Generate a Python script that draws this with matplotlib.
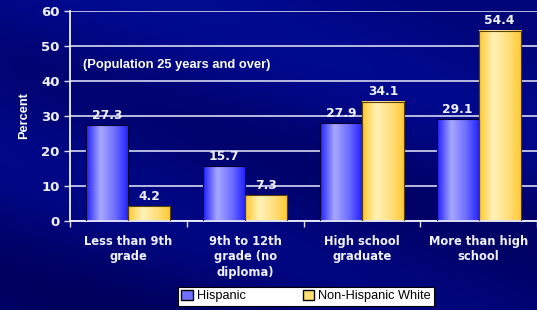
import numpy as np
import matplotlib
matplotlib.use("Agg")
import matplotlib.pyplot as plt
from matplotlib.colors import LinearSegmentedColormap
from matplotlib.patches import Patch

categories = ["Less than 9th\ngrade", "9th to 12th\ngrade (no\ndiploma)",
              "High school\ngraduate", "More than high\nschool"]
hispanic = [27.3, 15.7, 27.9, 29.1]
nonhisp_white = [4.2, 7.3, 34.1, 54.4]
series_names = ["Hispanic", "Non-Hispanic White"]
y_ticks = [0, 10, 20, 30, 40, 50, 60]

fig = plt.figure(figsize=(5.37, 3.10), dpi=100)
fig.patch.set_facecolor("#00007a")

# background with soft diagonal streaks
bg = fig.add_axes([0, 0, 1, 1], zorder=-1)
bg.axis("off")
yy, xx = np.mgrid[0:1:200j, 0:1:300j]
diag = xx * 0.6 - yy
streak = 0.5 + 0.5 * np.sin(diag * 9.0)
bg_cmap = LinearSegmentedColormap.from_list("bg", ["#00005e", "#000888", "#0412a0"])
bg.imshow(0.35 * streak + 0.65 * (1 - yy) * 0.5, cmap=bg_cmap, aspect="auto",
          extent=[0, 1, 0, 1], vmin=0, vmax=1)

ax = fig.add_axes([70 / 537, 1 - 221 / 310, 1 - 70 / 537, (221 - 11) / 310])
ax.set_facecolor("none")

x = np.arange(len(categories))
w = 0.36
bars_h = ax.bar(x - w / 2, hispanic, w, color="none", edgecolor="#000030",
                linewidth=0.8, zorder=3)
bars_w = ax.bar(x + w / 2, nonhisp_white, w, color="none", edgecolor="#5a4000",
                linewidth=0.8, zorder=3)

blue_cmap = LinearSegmentedColormap.from_list("b", ["#2020ff", "#a8a8ff", "#7070ff", "#2020ff"])
gold_cmap = LinearSegmentedColormap.from_list("g", ["#ffc830", "#fff2b8", "#ffe080", "#ffc830"])
grad = np.linspace(0, 1, 64).reshape(1, -1)
for bars, cmap in [(bars_h, blue_cmap), (bars_w, gold_cmap)]:
    for b in bars:
        x0, y0 = b.get_x(), b.get_y()
        ax.imshow(grad, cmap=cmap, aspect="auto", zorder=2,
                  extent=[x0, x0 + b.get_width(), y0, y0 + b.get_height()])

for b, v in list(zip(bars_h, hispanic)) + list(zip(bars_w, nonhisp_white)):
    ax.text(b.get_x() + b.get_width() / 2, v + 1.0, f"{v:.1f}", ha="center",
            va="bottom", color="#f0f0ff", fontsize=8.8, fontweight="bold", zorder=4)

ax.set_xlim(-0.5, len(categories) - 0.5)
ax.set_ylim(0, 60)
ax.set_yticks(y_ticks)
ax.yaxis.grid(True, color="#c8c8e8", linewidth=1.3, zorder=0)
ax.set_axisbelow(True)

ax.set_xticks(x)
ax.set_xticklabels(categories, color="#f0f0ff", fontsize=8.3, fontweight="bold",
                   linespacing=1.25)
ax.set_xticks(np.arange(len(categories) + 1) - 0.5, minor=True)
ax.tick_params(axis="x", which="major", length=0, pad=10)
ax.tick_params(axis="x", which="minor", length=4, color="#e0e0f0", width=1)
ax.tick_params(axis="y", length=4, color="#e0e0f0", width=1, colors="#f0f0ff",
               labelsize=9.5)
for t in ax.get_yticklabels():
    t.set_fontweight("bold")

for s in ["top", "right"]:
    ax.spines[s].set_visible(False)
for s in ["left", "bottom"]:
    ax.spines[s].set_color("#f0f0ff")
    ax.spines[s].set_linewidth(1.3)

ax.set_ylabel("Percent", color="white", fontsize=9.2, fontweight="bold",
              family="Liberation Sans", labelpad=8)
ax.text(0.028, 0.745, "(Population 25 years and over)", transform=ax.transAxes,
        color="white", fontsize=9.3, fontweight="bold", family="Liberation Sans",
        va="center")

handles = [Patch(facecolor="#7070ff", edgecolor="black", label=series_names[0]),
           Patch(facecolor="#ffe070", edgecolor="black", label=series_names[1])]
leg = fig.legend(handles=handles, loc="center", bbox_to_anchor=(0.57, 0.045),
                 ncol=2, frameon=True, fancybox=False, framealpha=1,
                 edgecolor="black", prop={"family": "Liberation Sans", "size": 9.2},
                 handlelength=0.9, handleheight=0.9, handletextpad=0.3,
                 columnspacing=4.5, borderpad=0.25)
leg.get_frame().set_linewidth(0.8)

fig.savefig("out.png", dpi=100, facecolor=fig.get_facecolor())
